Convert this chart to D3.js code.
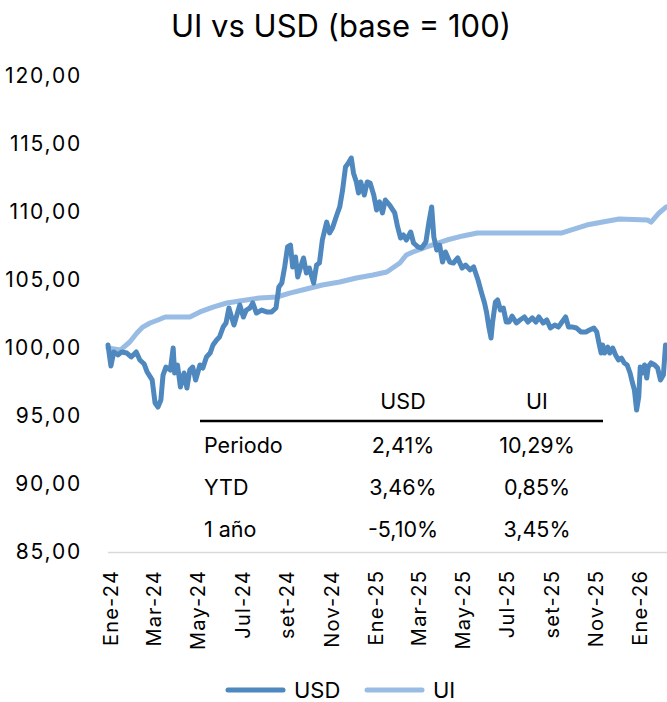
<!DOCTYPE html>
<html>
<head>
<meta charset="utf-8">
<script src="https://cdn.jsdelivr.net/npm/d3@7"></script>
<style>
  body { margin: 0; background: #fff; }
  svg text { font-family: Inter, "Open Sans", sans-serif; fill: #000; }
</style>
</head>
<body>
<svg id="chart" width="667" height="702"></svg>
<script>
// USD series (base = 100)
const usdDates = [
  '2024-01-02', '2024-01-06', '2024-01-10', '2024-01-16', '2024-01-21', '2024-01-28', '2024-02-03', '2024-02-10',
  '2024-02-15', '2024-02-21', '2024-02-25', '2024-03-03', '2024-03-07', '2024-03-11', '2024-03-15', '2024-03-18',
  '2024-03-22', '2024-03-28', '2024-04-01', '2024-04-03', '2024-04-07', '2024-04-11', '2024-04-16', '2024-04-20',
  '2024-04-24', '2024-04-28', '2024-05-02', '2024-05-08', '2024-05-12', '2024-05-17', '2024-05-22', '2024-05-26',
  '2024-05-31', '2024-06-04', '2024-06-09', '2024-06-13', '2024-06-17', '2024-06-21', '2024-06-24', '2024-06-28',
  '2024-07-02', '2024-07-07', '2024-07-11', '2024-07-16', '2024-07-20', '2024-07-25', '2024-08-01', '2024-08-08',
  '2024-08-15', '2024-08-21', '2024-08-25', '2024-08-29', '2024-09-02', '2024-09-06', '2024-09-10', '2024-09-13',
  '2024-09-17', '2024-09-20', '2024-09-24', '2024-09-28', '2024-10-02', '2024-10-06', '2024-10-12', '2024-10-16',
  '2024-10-20', '2024-10-24', '2024-10-30', '2024-11-03', '2024-11-07', '2024-11-13', '2024-11-17', '2024-11-21',
  '2024-11-25', '2024-11-29', '2024-12-03', '2024-12-06', '2024-12-10', '2024-12-13', '2024-12-16', '2024-12-21',
  '2024-12-25', '2024-12-29', '2025-01-03', '2025-01-07', '2025-01-11', '2025-01-15', '2025-01-19', '2025-01-25',
  '2025-02-01', '2025-02-05', '2025-02-09', '2025-02-13', '2025-02-17', '2025-02-23', '2025-02-27', '2025-03-05',
  '2025-03-10', '2025-03-16', '2025-03-20', '2025-03-24', '2025-03-27', '2025-03-31', '2025-04-04', '2025-04-08',
  '2025-04-12', '2025-04-18', '2025-04-23', '2025-04-29', '2025-05-05', '2025-05-10', '2025-05-16', '2025-05-21',
  '2025-05-27', '2025-06-01', '2025-06-05', '2025-06-08', '2025-06-11', '2025-06-14', '2025-06-16', '2025-06-20',
  '2025-06-23', '2025-06-27', '2025-07-01', '2025-07-05', '2025-07-09', '2025-07-13', '2025-07-19', '2025-07-24',
  '2025-07-30', '2025-08-04', '2025-08-10', '2025-08-15', '2025-08-19', '2025-08-25', '2025-08-30', '2025-09-04',
  '2025-09-10', '2025-09-15', '2025-09-19', '2025-09-25', '2025-09-29', '2025-10-05', '2025-10-10', '2025-10-16',
  '2025-10-23', '2025-10-28', '2025-11-03', '2025-11-07', '2025-11-10', '2025-11-13', '2025-11-15', '2025-11-18',
  '2025-11-22', '2025-11-25', '2025-11-29', '2025-12-03', '2025-12-07', '2025-12-11', '2025-12-15', '2025-12-19',
  '2025-12-23', '2025-12-26', '2025-12-29', '2026-01-01', '2026-01-04', '2026-01-06', '2026-01-09', '2026-01-12',
  '2026-01-15', '2026-01-17', '2026-01-21', '2026-01-26', '2026-01-30', '2026-02-03', '2026-02-07', '2026-02-10'
]
const usdValues = [
  100.22, 98.68, 99.71, 99.49, 99.71, 99.63, 99.34, 99.71,
  99.12, 98.82, 98.24, 97.65, 95.96, 95.66, 96.18, 98.01,
  98.60, 98.38, 100.00, 98.16, 98.75, 97.13, 98.16, 97.06,
  98.38, 98.60, 97.65, 98.75, 98.53, 99.34, 99.63, 100.22,
  100.59, 100.81, 101.54, 101.84, 102.94, 102.21, 101.69, 102.43,
  103.16, 102.28, 102.79, 102.94, 103.31, 102.57, 102.79, 102.65,
  102.65, 102.94, 104.49, 104.78, 105.96, 107.43, 107.57, 105.96,
  106.69, 105.22, 105.96, 106.62, 105.51, 105.88, 104.78, 106.10,
  106.25, 107.94, 109.26, 108.46, 108.82, 109.78, 110.37, 111.62,
  113.31, 113.60, 113.97, 112.87, 112.21, 111.40, 112.21, 111.25,
  112.21, 112.13, 111.25, 110.15, 110.74, 109.93, 110.88, 110.51,
  109.93, 108.90, 108.09, 108.31, 107.94, 108.53, 107.72, 107.43,
  107.35, 107.79, 109.19, 110.37, 108.16, 107.21, 107.57, 106.32,
  107.06, 106.32, 106.25, 106.62, 105.88, 106.10, 105.74, 105.96,
  105.00, 104.04, 103.31, 102.57, 101.54, 100.74, 101.84, 103.38,
  103.53, 102.79, 102.94, 101.91, 101.91, 102.35, 101.84, 102.06,
  102.28, 101.91, 102.21, 101.91, 102.28, 101.84, 102.06, 101.47,
  101.69, 101.54, 101.84, 102.28, 101.54, 101.54, 101.47, 101.18,
  101.18, 101.32, 101.47, 101.18, 100.37, 99.63, 100.22, 99.63,
  100.07, 99.63, 100.00, 99.49, 99.12, 99.26, 98.90, 98.75,
  98.16, 97.50, 96.91, 95.44, 96.40, 98.60, 98.16, 98.75,
  97.79, 98.60, 98.90, 98.75, 98.53, 97.65, 98.01, 100.22
]

// UI series (base = 100)
const uiDates = [
  '2024-01-02', '2024-01-19', '2024-02-01', '2024-02-11', '2024-02-19', '2024-02-29', '2024-03-11', '2024-03-21',
  '2024-04-24', '2024-05-08', '2024-05-26', '2024-06-14', '2024-07-02', '2024-07-29', '2024-08-22', '2024-09-09',
  '2024-10-02', '2024-10-24', '2024-11-17', '2024-12-10', '2025-01-02', '2025-01-21', '2025-01-29', '2025-02-08',
  '2025-02-17', '2025-02-26', '2025-03-17', '2025-04-14', '2025-05-06', '2025-05-26', '2025-08-06', '2025-09-20',
  '2025-10-24', '2025-11-15', '2025-12-08', '2026-01-16', '2026-01-21', '2026-02-01', '2026-02-11'
]
const uiValues = [
  100.00, 99.85, 100.44, 101.10, 101.54, 101.84, 102.06, 102.28,
  102.28, 102.65, 103.01, 103.31, 103.46, 103.68, 103.75, 104.04,
  104.34, 104.63, 104.85, 105.15, 105.37, 105.59, 105.88, 106.25,
  106.84, 107.06, 107.43, 107.94, 108.24, 108.46, 108.46, 108.46,
  109.04, 109.26, 109.49, 109.41, 109.26, 109.93, 110.37
]

// Axis ticks
const yTicks = [85, 90, 95, 100, 105, 110, 115, 120]
const monthNames = ['Ene', 'Feb', 'Mar', 'Abr', 'May', 'Jun', 'Jul', 'Ago', 'set', 'Oct', 'Nov', 'Dic']
const xTickDates = [
  '2024-01-01', '2024-03-01', '2024-05-01', '2024-07-01', '2024-09-01', '2024-11-01', '2025-01-01',
  '2025-03-01', '2025-05-01', '2025-07-01', '2025-09-01', '2025-11-01', '2026-01-01'
]

// Summary table
const tableHeaders = ['USD', 'UI']
const tableRows = ['Periodo', 'YTD', '1 año']
const tableUsd = ['2,41%', '3,46%', '-5,10%']
const tableUi = ['10,29%', '0,85%', '3,45%']

const colorUsd = '#4e88be'
const colorUi = '#98bce3'

const parse = d3.utcParse('%Y-%m-%d')
const svg = d3.select('#chart')

const x = d3.scaleUtc()
  .domain([parse('2024-01-02'), parse('2026-02-12')])
  .range([108, 667])
const y = d3.scaleLinear()
  .domain([85, 120])
  .range([552, 76])

const locale = d3.formatLocale({ decimal: ',', thousands: '.', grouping: [3], currency: ['', ''] })
const fmt = locale.format('.2f')

// title
svg.append('text')
  .attr('x', 341)
  .attr('y', 37)
  .attr('text-anchor', 'middle')
  .attr('font-size', '31px')
  .text('UI vs USD (base = 100)')

// y axis (labels only)
const yAxis = svg.append('g')
  .attr('transform', 'translate(82,0)')
  .call(d3.axisLeft(y).tickValues(yTicks).tickSize(0).tickPadding(0).tickFormat(fmt))
yAxis.select('.domain').remove()
yAxis.selectAll('text')
  .attr('font-size', '21px')
  .attr('letter-spacing', '1.8px')
  .attr('font-family', 'Inter, sans-serif')
  .attr('fill', '#000')

// x axis
const xAxis = svg.append('g')
  .attr('transform', 'translate(0,552)')
  .call(d3.axisBottom(x)
    .tickValues(xTickDates.map(parse))
    .tickSize(0)
    .tickFormat(d => monthNames[d.getUTCMonth()] + '-' + String(d.getUTCFullYear()).slice(2)))
xAxis.select('.domain')
  .attr('stroke', '#d9d9d9')
  .attr('stroke-width', 1.5)
  .attr('d', 'M108,0.5H667')
xAxis.selectAll('text')
  .attr('font-size', '20px')
  .attr('letter-spacing', '1.2px')
  .attr('font-family', 'Inter, sans-serif')
  .attr('fill', '#000')
  .attr('text-anchor', 'end')
  .attr('dy', '0.35em')
  .attr('transform', 'translate(3,18) rotate(-90)')
  .attr('y', 0)
  .attr('x', 0)

// lines
const line = d3.line()
  .x(d => x(d[0]))
  .y(d => y(d[1]))

svg.append('path')
  .datum(uiDates.map((d, i) => [parse(d), uiValues[i]]))
  .attr('fill', 'none')
  .attr('stroke', colorUi)
  .attr('stroke-width', 5)
  .attr('stroke-linejoin', 'round')
  .attr('stroke-linecap', 'round')
  .attr('d', line)

svg.append('path')
  .datum(usdDates.map((d, i) => [parse(d), usdValues[i]]))
  .attr('fill', 'none')
  .attr('stroke', colorUsd)
  .attr('stroke-width', 5)
  .attr('stroke-linejoin', 'round')
  .attr('stroke-linecap', 'round')
  .attr('d', line)

// table
const table = svg.append('g')
const colX = [403, 537]
const fs = '21.5px'
tableHeaders.forEach((h, i) => {
  table.append('text')
    .attr('x', colX[i])
    .attr('y', 409)
    .attr('text-anchor', 'middle')
    .attr('font-size', fs)
    .text(h)
})
table.append('line')
  .attr('x1', 200)
  .attr('x2', 603)
  .attr('y1', 421)
  .attr('y2', 421)
  .attr('stroke', '#000')
  .attr('stroke-width', 2.5)
tableRows.forEach((r, i) => {
  const yy = 453 + i * 42
  table.append('text').attr('x', 204).attr('y', yy).attr('font-size', fs).text(r)
  table.append('text').attr('x', colX[0]).attr('y', yy).attr('text-anchor', 'middle').attr('font-size', fs).text(tableUsd[i])
  table.append('text').attr('x', colX[1]).attr('y', yy).attr('text-anchor', 'middle').attr('font-size', fs).text(tableUi[i])
})

// legend
const legend = svg.append('g')
const items = [
  { name: 'USD', color: colorUsd, x: 228 },
  { name: 'UI', color: colorUi, x: 367 }
]
items.forEach(it => {
  legend.append('line')
    .attr('x1', it.x)
    .attr('x2', it.x + 55)
    .attr('y1', 690)
    .attr('y2', 690)
    .attr('stroke', it.color)
    .attr('stroke-width', 5)
    .attr('stroke-linecap', 'round')
  legend.append('text')
    .attr('x', it.x + 66)
    .attr('y', 698)
    .attr('font-size', '22px')
    .text(it.name)
})
</script>
</body>
</html>
